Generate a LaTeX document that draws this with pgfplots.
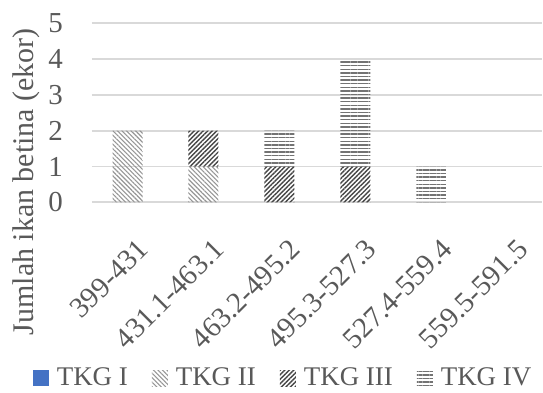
\documentclass[border=0pt]{standalone}
\usepackage{fontspec}
\setmainfont{Liberation Serif}
\usepackage{pgfplots}
\pgfplotsset{compat=1.18}
\usetikzlibrary{patterns.meta}
\definecolor{tkgone}{RGB}{68,114,196}
\definecolor{tkgtwo}{RGB}{150,150,150}
\definecolor{tkgthree}{RGB}{70,70,70}
\definecolor{tkgfour}{RGB}{115,115,115}
\definecolor{gridgray}{RGB}{217,217,217}
\definecolor{labelgray}{RGB}{89,89,89}
\begin{document}
\begin{tikzpicture}
\begin{axis}[
  scale only axis,
  width=225.5pt, height=89.7pt,
  ybar stacked, bar width=15pt,
  ymin=0, ymax=5, ytick={0,1,2,3,4,5},
  xmin=-0.47, xmax=5.46,
  xtick={0,1,2,3,4,5},
  xticklabels={399-431,431.1-463.1,463.2-495.2,495.3-527.3,527.4-559.4,559.5-591.5},
  x tick label style={yshift=-21pt, xshift=8pt, rotate=45, anchor=east, font=\fontsize{14.5}{16}\selectfont, color=labelgray, inner sep=0pt},
  y tick label style={xshift=-11pt, font=\fontsize{14.5}{16}\selectfont, color=labelgray},
  /pgf/number format/assume math mode=true,
  axis line style={draw=none},
  tick style={draw=none},
  ymajorgrids, grid style={gridgray, line width=0.9pt},
  ylabel={Jumlah ikan betina (ekor)},
  ylabel style={at={(axis description cs:-0.146,0.115)}, anchor=center, rotate=0, font=\fontsize{15}{17}\selectfont, color=labelgray},
  legend columns=4,
  legend style={at={(axis description cs:0.427,-0.983)}, anchor=center, draw=none, font=\fontsize{13.5}{15}\selectfont, text=labelgray, /tikz/every even column/.append style={column sep=10pt}, inner sep=0pt},
  legend image code/.code={\path[#1] (0pt,-4pt) rectangle (8pt,4pt); \path (10pt,0pt);},
]
\addlegendimage{fill=tkgone, draw=none}
\addlegendentry{TKG I}
% TKG II
\addplot[draw=none, pattern={Lines[angle=-45,distance=1.6pt,line width=0.55pt]}, pattern color=tkgtwo]
  coordinates {(0,2) (1,1) (2,0) (3,0) (4,0) (5,0)};
\addlegendentry{TKG II}
% TKG III
\addplot[draw=none, pattern={Lines[angle=45,distance=1.6pt,line width=0.7pt]}, pattern color=tkgthree]
  coordinates {(0,0) (1,1) (2,1) (3,1) (4,0) (5,0)};
\addlegendentry{TKG III}
% TKG IV
\addplot[draw=none, pattern={Lines[angle=0,distance=1.8pt,line width=0.7pt]}, pattern color=tkgfour]
  coordinates {(0,0) (1,0) (2,1) (3,3) (4,1) (5,0)};
\addlegendentry{TKG IV}
\end{axis}
\path (-46pt,-94.65pt) rectangle (225.5pt,101.35pt);
\end{tikzpicture}
\end{document}
